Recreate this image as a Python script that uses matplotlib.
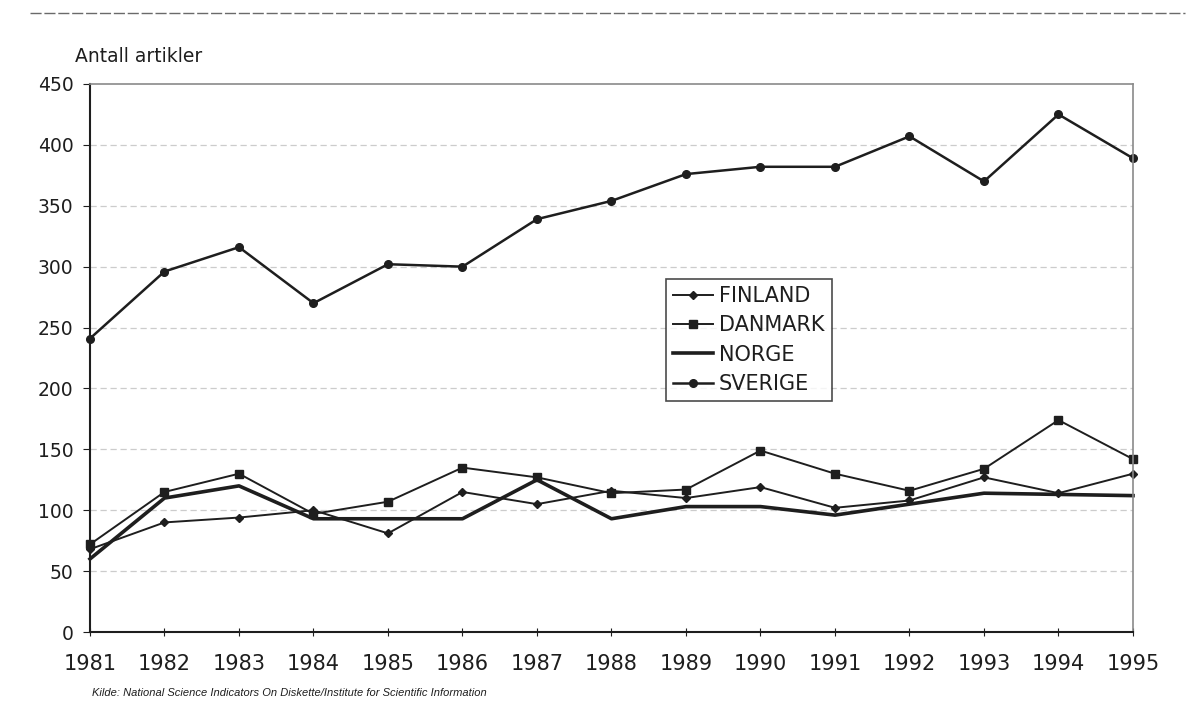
import matplotlib.pyplot as plt
import numpy as np

plt.rcParams['font.family'] = ['DejaVu Sans']

years = [1981, 1982, 1983, 1984, 1985, 1986, 1987, 1988,
         1989, 1990, 1991, 1992, 1993, 1994, 1995]
finland = [68, 90, 94, 100, 81, 115, 105, 116, 110, 119, 102, 108, 127, 114, 130]
danmark = [72, 115, 130, 97, 107, 135, 127, 114, 117, 149, 130, 116, 134, 174, 142]
norge = [60, 110, 120, 93, 93, 93, 125, 93, 103, 103, 96, 105, 114, 113, 112]
sverige = [241, 296, 316, 270, 302, 300, 339, 354, 376, 382, 382, 407, 370, 425, 389]
y_ticks = [0, 50, 100, 150, 200, 250, 300, 350, 400, 450]

ink = "#1e1e1e"

fig = plt.figure(figsize=(12.03, 7.08), dpi=100)
ax = fig.add_axes([0.0748, 0.1073, 0.867, 0.7741])

ax.plot(years, finland, color=ink, lw=1.4, marker="D", ms=4.5, label="FINLAND", clip_on=False)
ax.plot(years, danmark, color=ink, lw=1.4, marker="s", ms=5.5, label="DANMARK", clip_on=False)
ax.plot(years, norge, color=ink, lw=2.6, label="NORGE", clip_on=False)
ax.plot(years, sverige, color=ink, lw=1.8, marker="o", ms=5.5, label="SVERIGE", clip_on=False)

ax.set_xlim(1981, 1995)
ax.set_ylim(0, 450)
ax.set_yticks(y_ticks)
ax.set_xticks(years)
ax.set_xticklabels([str(y) for y in years], fontsize=15, color=ink)
ax.tick_params(axis="y", labelsize=13.5, labelcolor=ink, length=5, direction="out", color=ink, pad=7)
ax.tick_params(axis="x", length=6, direction="inout", color=ink, pad=13)

for v in y_ticks[1:-1]:
    ax.axhline(v, color="#cccccc", lw=0.9, ls=(0, (5, 3)), zorder=0)

ax.spines["left"].set_color(ink)
ax.spines["left"].set_linewidth(1.5)
ax.spines["bottom"].set_color(ink)
ax.spines["bottom"].set_linewidth(1.5)
for s in ["top", "right"]:
    ax.spines[s].set_color("#8a8a8a")
    ax.spines[s].set_linewidth(1.2)
    ax.spines[s].set_linestyle((0, (2, 1)))

leg = ax.legend(loc="upper left", bbox_to_anchor=(0.552, 0.645), fontsize=15,
                frameon=True, fancybox=False, edgecolor=ink, handlelength=1.9,
                handletextpad=0.3, labelspacing=0.45, borderpad=0.35,
                borderaxespad=0)
leg.get_frame().set_linewidth(1.2)
for t in leg.get_texts():
    t.set_color(ink)

fig.text(0.0625, 0.912, "Antall artikler", fontsize=13.5, color=ink)
fig.text(0.0765, 0.017, "Kilde: National Science Indicators On Diskette/Institute for Scientific Information",
         fontsize=8, style="italic", color=ink, family="Liberation Sans")

fig.add_artist(plt.Line2D([0.025, 0.985], [0.981, 0.981], color="#6a6a6a", lw=1.0,
                          ls=(0, (8, 2)), transform=fig.transFigure))

fig.savefig("out.png", dpi=100)
